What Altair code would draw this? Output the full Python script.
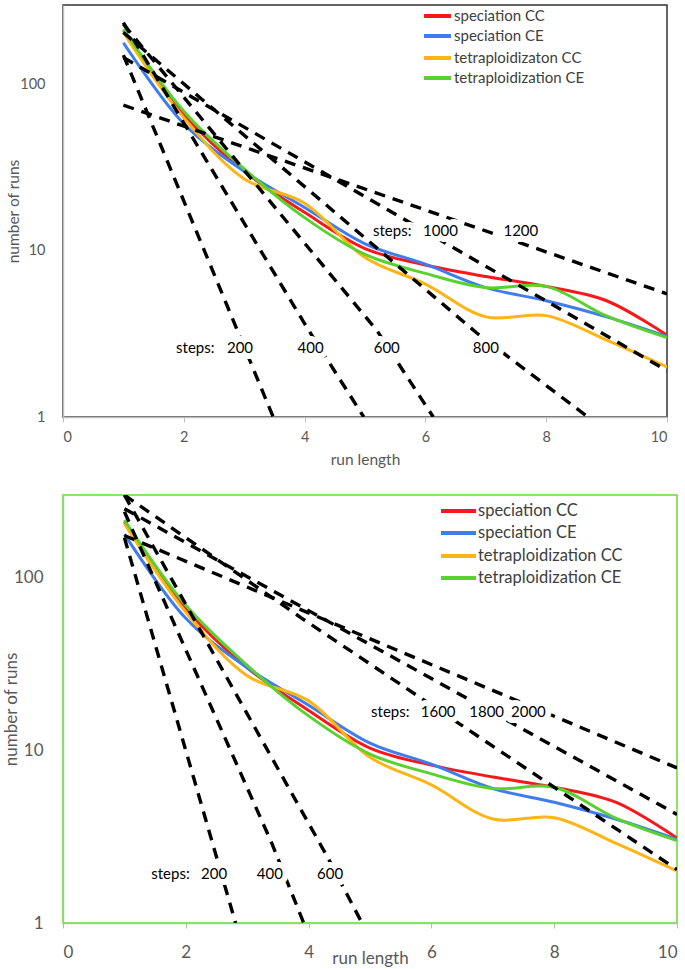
import altair as alt
import pandas as pd

# ---------------- data ----------------
run_length = [1, 2, 3, 4, 5, 6, 7, 8, 9, 10]
speciation_cc = [210, 66, 30, 17.0, 10.3, 8.2, 7.0, 6.1, 5.0, 3.1]
speciation_ce = [178, 58, 30, 18.2, 11.0, 8.3, 6.0, 5.0, 4.0, 3.05]
tetraploid_cc = [205, 63, 27, 19.3, 9.1, 6.3, 4.0, 4.07, 2.9, 2.0]
tetraploid_ce = [215, 69, 31, 15.8, 9.5, 7.3, 6.0, 6.1, 4.05, 3.0]

series_colors = ["#F8171B", "#3E7CF0", "#FDB515", "#59D230"]
top_legend_labels = ["speciation CC", "speciation CE", "tetraploidizaton CC", "tetraploidization CE"]
bottom_legend_labels = ["speciation CC", "speciation CE", "tetraploidization CC", "tetraploidization CE"]

# dashed reference curves (steps, run length, number of runs)
top_ref_steps = [200, 200, 400, 400, 400, 600, 600, 600, 800, 800, 800, 1000, 1000, 1200, 1200]
top_ref_x = [1, 3.48, 1, 4.05, 4.98, 1, 5.2, 6.13, 1, 6.85, 8.69, 1, 10, 1, 10]
top_ref_y = [150, 1, 235, 3.4, 1, 230, 3.3, 1, 205, 3.2, 1, 145, 1.9, 75, 5.5]

bottom_ref_steps = [200, 200, 400, 400, 400, 600, 600, 600, 1600, 1600, 1600, 1800, 1800, 2000, 2000]
bottom_ref_x = [1, 2.81, 1, 3.4, 3.92, 1, 4.31, 4.87, 1, 3.89, 10, 1, 10, 1, 10]
bottom_ref_y = [170, 1, 240, 2.9, 1, 300, 2.4, 1, 300, 58, 2.04, 250, 4.25, 175, 7.9]

# in-plot labels
top_label_text = ["steps:", "200", "400", "600", "800", "steps:", "1000", "1200"]
top_label_x = [2.19, 2.93, 4.1, 5.36, 7.0, 5.45, 6.25, 7.58]
top_label_y = [2.61, 2.61, 2.61, 2.61, 2.61, 13.2, 13.2, 13.2]

bottom_label_text = ["steps:", "200", "400", "600", "steps:", "1600", "1800", "2000"]
bottom_label_x = [1.75, 2.46, 3.37, 4.35, 5.33, 6.11, 6.9, 7.58]
bottom_label_y = [1.92, 1.92, 1.92, 1.92, 16.7, 16.7, 16.7, 16.7]

FONT = "Lato"
GREY = "#595959"
Y_MAX = 300


def series_frame(labels):
    rows = []
    for lab, vals in zip(labels, [speciation_cc, speciation_ce, tetraploid_cc, tetraploid_ce]):
        for x, v in zip(run_length, vals):
            rows.append({"series": lab, "run": x, "runs": v})
    return pd.DataFrame(rows)


def panel(labels, ref_steps, ref_x, ref_y, lab_text, lab_x, lab_y, width, height,
          tick_fs, title_fs, legend_fs, leg_sym_px, leg_text_px, leg_rows_px,
          xlabel_pad, xtitle_y, ylabel_pad, ytitle_x, view_stroke, axis_color):
    x_enc = alt.X("run:Q", scale=alt.Scale(domain=[0, 10], nice=False),
                  axis=alt.Axis(values=[0, 2, 4, 6, 8, 10], format="d", title="run length", grid=False,
                                labelFont=FONT, labelFontSize=tick_fs, labelColor=GREY,
                                titleFont=FONT, titleFontSize=title_fs, titleColor=GREY,
                                titleFontWeight="normal", domainColor=axis_color, domainWidth=1.5,
                                tickColor=axis_color, tickSize=5, labelPadding=xlabel_pad,
                                titleY=xtitle_y, titleBaseline="top"))
    y_enc = alt.Y("runs:Q", scale=alt.Scale(type="log", domain=[1, Y_MAX], nice=False),
                  axis=alt.Axis(values=[1, 10, 100], format="d", title="number of runs", grid=False,
                                labelFont=FONT, labelFontSize=tick_fs, labelColor=GREY,
                                titleFont=FONT, titleFontSize=title_fs, titleColor=GREY,
                                titleFontWeight="normal", domainColor=axis_color, domainWidth=1.5,
                                ticks=False, labelPadding=ylabel_pad, titleX=ytitle_x,
                                titleBaseline="bottom"))
    color = alt.Color("series:N", scale=alt.Scale(domain=labels, range=series_colors), legend=None)

    lines = alt.Chart(series_frame(labels)).mark_line(
        interpolate="catmull-rom", strokeWidth=3, clip=True
    ).encode(x=x_enc, y=y_enc, color=color)

    ref_df = pd.DataFrame({"steps": ref_steps, "run": ref_x, "runs": ref_y})
    refs = alt.Chart(ref_df).mark_line(
        color="black", strokeDash=[11, 8], strokeWidth=3.4, clip=True
    ).encode(x=x_enc, y=y_enc, detail="steps:N")

    lab_df = pd.DataFrame({"label": lab_text, "run": lab_x, "runs": lab_y})
    halo = alt.Chart(lab_df).mark_text(
        font=FONT, fontSize=15, color="white", stroke="white", strokeWidth=12, strokeJoin="round"
    ).encode(x=x_enc, y=y_enc, text="label:N")
    text = alt.Chart(lab_df).mark_text(
        font=FONT, fontSize=15, color="black"
    ).encode(x=x_enc, y=y_enc, text="label:N")

    # legend (layout positions given in panel pixels, converted to the panel's scales)
    def px_x(px):
        return px / width * 10

    def px_y(py):
        return Y_MAX ** (1 - py / height)

    rows_runs = [px_y(p) for p in leg_rows_px]
    leg_df = pd.DataFrame({
        "series": labels,
        "run": [px_x(leg_sym_px[0])] * 4,
        "run2": [px_x(leg_sym_px[1])] * 4,
        "runs": rows_runs,
    })
    leg_text_df = pd.DataFrame({
        "series": labels,
        "run": [px_x(leg_text_px)] * 4,
        "runs": rows_runs,
    })
    leg_rule = alt.Chart(leg_df).mark_rule(strokeWidth=4).encode(
        x=x_enc, x2="run2:Q", y=y_enc, color=color)
    leg_text = alt.Chart(leg_text_df).mark_text(
        font=FONT, fontSize=legend_fs, color="#404040", align="left", baseline="middle"
    ).encode(x=x_enc, y=y_enc, text="series:N")

    return alt.layer(lines, refs, halo, text, leg_rule, leg_text).properties(
        width=width, height=height,
        view=alt.ViewBackground(stroke=view_stroke, strokeWidth=1.5),
    )


top = panel(top_legend_labels, top_ref_steps, top_ref_x, top_ref_y,
            top_label_text, top_label_x, top_label_y, 604, 412,
            tick_fs=14.5, title_fs=15.5, legend_fs=15,
            leg_sym_px=(361, 388), leg_text_px=391, leg_rows_px=[11, 31, 53, 73],
            xlabel_pad=8, xtitle_y=35,
            ylabel_pad=18, ytitle_x=-42, view_stroke="#333333", axis_color="#BFBFBF")

bottom = panel(bottom_legend_labels, bottom_ref_steps, bottom_ref_x, bottom_ref_y,
               bottom_label_text, bottom_label_x, bottom_label_y, 614, 428,
               tick_fs=17, title_fs=17, legend_fs=16.5,
               leg_sym_px=(378, 413), leg_text_px=415, leg_rows_px=[16, 38, 61, 83],
               xlabel_pad=16, xtitle_y=27,
               ylabel_pad=20, ytitle_x=-43, view_stroke="#66DD33", axis_color="#A9C49E")

chart = alt.vconcat(top, bottom, spacing=25).resolve_scale(
    color="independent"
).properties(
    padding={"left": 1, "top": 4, "right": 5, "bottom": 0},
    background="white",
)

chart.save("out.html", embed_options={"renderer": "svg", "actions": False})
